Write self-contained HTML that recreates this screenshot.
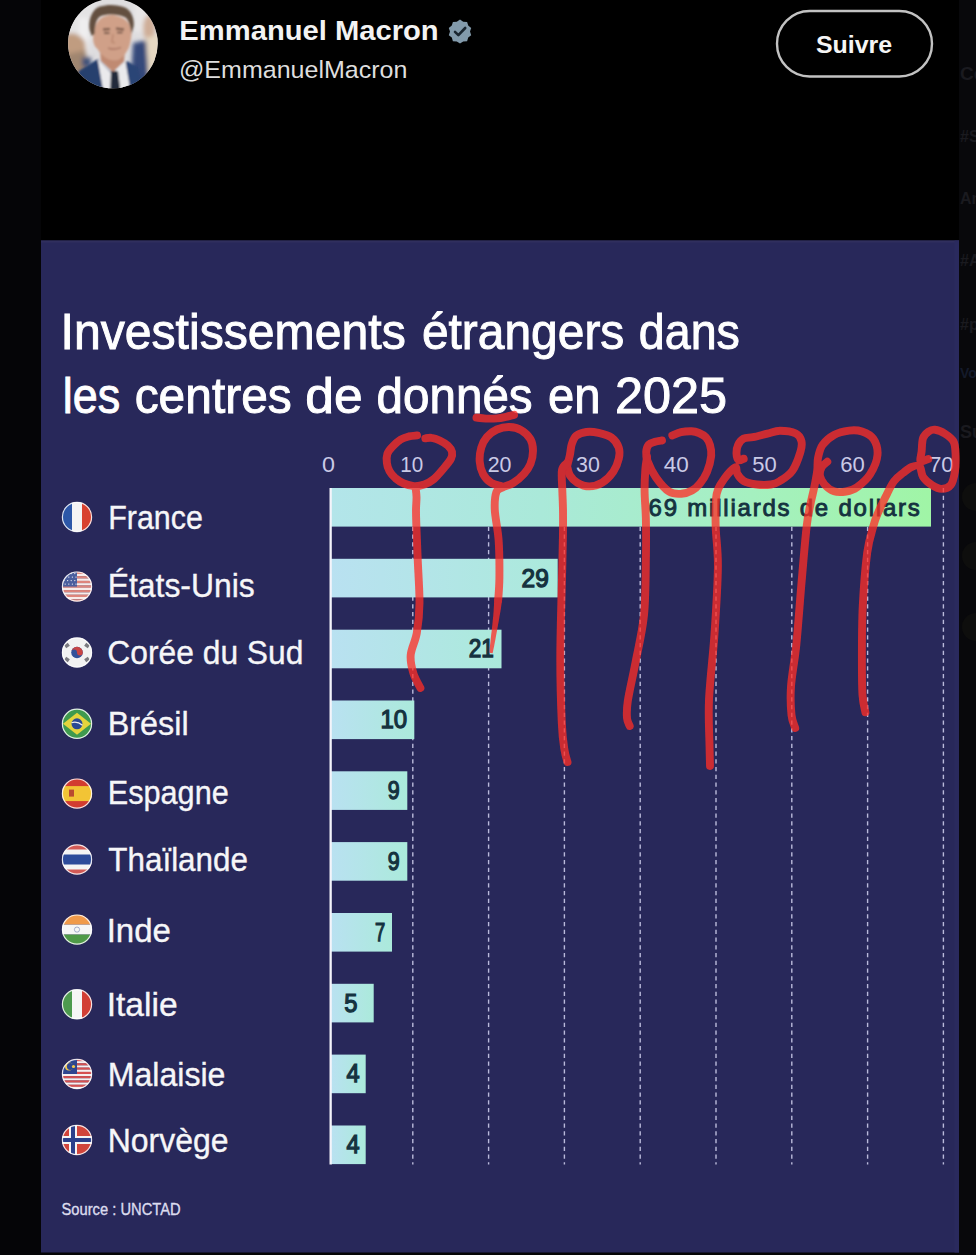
<!DOCTYPE html>
<html><head><meta charset="utf-8"><title>Emmanuel Macron</title>
<style>
html,body{margin:0;padding:0;background:#050507;}
body{width:976px;height:1255px;overflow:hidden;}
svg{display:block;}
</style></head><body>
<svg width="976" height="1255" viewBox="0 0 976 1255">
<defs><linearGradient id="gF0" gradientUnits="userSpaceOnUse" x1="331" y1="0" x2="931" y2="0"><stop offset="0" stop-color="#b3e5ea"/><stop offset="0.35" stop-color="#aae9d9"/><stop offset="0.7" stop-color="#a5f0c0"/><stop offset="1" stop-color="#a0f5a6"/></linearGradient><linearGradient id="gB1" gradientUnits="userSpaceOnUse" x1="331" y1="0" x2="557.7" y2="0"><stop offset="0" stop-color="#b9e1f1"/><stop offset="1" stop-color="#abeadb"/></linearGradient><linearGradient id="gB2" gradientUnits="userSpaceOnUse" x1="331" y1="0" x2="501.5" y2="0"><stop offset="0" stop-color="#b9e1f1"/><stop offset="1" stop-color="#abeadb"/></linearGradient><linearGradient id="gB3" gradientUnits="userSpaceOnUse" x1="331" y1="0" x2="414.3" y2="0"><stop offset="0" stop-color="#b9e1f1"/><stop offset="1" stop-color="#abeadb"/></linearGradient><linearGradient id="gB4" gradientUnits="userSpaceOnUse" x1="331" y1="0" x2="407.3" y2="0"><stop offset="0" stop-color="#b9e1f1"/><stop offset="1" stop-color="#abeadb"/></linearGradient><linearGradient id="gB5" gradientUnits="userSpaceOnUse" x1="331" y1="0" x2="407.3" y2="0"><stop offset="0" stop-color="#b9e1f1"/><stop offset="1" stop-color="#abeadb"/></linearGradient><linearGradient id="gB6" gradientUnits="userSpaceOnUse" x1="331" y1="0" x2="392" y2="0"><stop offset="0" stop-color="#b9e1f1"/><stop offset="1" stop-color="#abeadb"/></linearGradient><linearGradient id="gB7" gradientUnits="userSpaceOnUse" x1="331" y1="0" x2="373.7" y2="0"><stop offset="0" stop-color="#b9e1f1"/><stop offset="1" stop-color="#abeadb"/></linearGradient><linearGradient id="gB8" gradientUnits="userSpaceOnUse" x1="331" y1="0" x2="365.7" y2="0"><stop offset="0" stop-color="#b9e1f1"/><stop offset="1" stop-color="#abeadb"/></linearGradient><linearGradient id="gB9" gradientUnits="userSpaceOnUse" x1="331" y1="0" x2="365.7" y2="0"><stop offset="0" stop-color="#b9e1f1"/><stop offset="1" stop-color="#abeadb"/></linearGradient></defs>
<rect x="0" y="0" width="976" height="1255" fill="#050507"/>
<rect x="41" y="0" width="918" height="241" fill="#000000"/>
<rect x="959" y="0" width="17" height="1255" fill="#08080b"/>
<!-- header -->

<clipPath id="av"><circle cx="112.9" cy="43.5" r="44.8"/></clipPath>
<filter id="blur1" x="-20%" y="-20%" width="140%" height="140%"><feGaussianBlur stdDeviation="0.9"/></filter>
<filter id="blur2" x="-20%" y="-20%" width="140%" height="140%"><feGaussianBlur stdDeviation="2.2"/></filter>
<g clip-path="url(#av)">
<rect x="60" y="-5" width="110" height="100" fill="#dedddf"/>
<g filter="url(#blur2)">
<rect x="64" y="-5" width="30" height="45" fill="#e4e3e4"/>
<rect x="79" y="18" width="9" height="40" fill="#f0eff0"/>
<path d="M64,36 C70,31 80,33 85,42 L88,72 L66,75 Z" fill="#c09c80"/>
<path d="M64,55 L86,50 L90,88 L64,90 Z" fill="#a08670"/>
<path d="M82,57 L91,57 L91,67 L82,67 Z" fill="#41527a"/>
<rect x="134" y="2" width="14" height="30" fill="#e8e6e6"/>
<ellipse cx="149" cy="28" rx="6" ry="13" fill="#cfae98"/>
<path d="M133,43 L148,40 L152,95 L130,95 Z" fill="#34497a"/>
<path d="M146,38 L160,34 L162,80 L149,84 Z" fill="#e6d8c2"/>
</g>
<g filter="url(#blur1)">
<path d="M70,95 L79,71 L98,59 L113,74 L127,61 L138,67 L146,95 Z" fill="#2b4576"/>
<path d="M79,71 L98,59 L106,72 L100,95 L86,95 Z" fill="#283f6e"/>
<path d="M97.5,58.5 L112,74 L125.5,61.5 L129.5,85 L125,95 L104,95 Z" fill="#eaeaec"/>
<path d="M111,71 L118,71 L121,95 L110,95 Z" fill="#22293a"/>
<path d="M100,52 L125,50 L124,61.5 L113,72 L101,61 Z" fill="#c08a72"/>
<path d="M93.7,33.8 C92,40 94,47 97.8,49.2 C100,54 105,57.4 108,59 C111,60.5 115,60.8 118,60 C122,58 125.5,54.3 127,51 C129.5,48 130.6,43 131.6,33.8 C131,24 127,17 113,15 C100,15 95,22 93.7,33.8 Z" fill="#d0a088"/>
<path d="M89.6,30 C88,20 92,9 100,6.5 C108,4 118,4.5 125,7.5 C131,10.5 134.5,18 133.7,26 L131.6,33.8 C130.5,27 129,20 125.5,17.4 C119,14 107,13.5 100,16.4 C96,19 95,26 94.5,34 L91.7,36 Z" fill="#635040"/>
<path d="M103,29.5 L110,29 M116,28.5 L124,29.5" stroke="#6a4c3e" stroke-width="1.8"/>
<path d="M104,33 L109.5,33 M117,32.5 L122.5,32.5" stroke="#5a4035" stroke-width="1.5"/>
<path d="M113,34 L112,42 L115,43" stroke="#b58068" stroke-width="1.2" fill="none"/>
<path d="M108,48 C111,49.5 116,49.5 121,47.5" stroke="#a06a5a" stroke-width="1.3" fill="none"/>
</g>
</g>

<g font-family="'Liberation Sans', Arial, sans-serif" font-weight="700" font-size="27.5" fill="#f3f3f3"><text x="179.38" y="40.40" textLength="259.23" lengthAdjust="spacingAndGlyphs">Emmanuel Macron</text></g>
<g transform="translate(460,31)">
<path d="M0,-11.5 L3.2,-9.3 L7.1,-9.1 L8.2,-5.4 L11.2,-3 L10,0.6 L11.2,4.2 L8.2,6.5 L7.1,10.2 L3.2,10.4 L0,12.6 L-3.2,10.4 L-7.1,10.2 L-8.2,6.5 L-11.2,4.2 L-10,0.6 L-11.2,-3 L-8.2,-5.4 L-7.1,-9.1 L-3.2,-9.3 Z" fill="#829aab" transform="scale(1.0)"/>
<path d="M-5,0.8 L-1.6,4.2 L5.2,-3" fill="none" stroke="#1a2630" stroke-width="2.6" stroke-linecap="round" stroke-linejoin="round"/>
</g>
<g font-family="'Liberation Sans', Arial, sans-serif" font-size="24.8" fill="#dedede"><text x="178.98" y="77.80" textLength="228.42" lengthAdjust="spacingAndGlyphs">@EmmanuelMacron</text></g>
<rect x="777" y="11" width="155" height="65.5" rx="32.75" fill="none" stroke="#c2c2c2" stroke-width="2.4"/>
<g font-family="'Liberation Sans', Arial, sans-serif" font-weight="700" font-size="24.6" fill="#f5f5f5"><text x="815.99" y="52.50" textLength="76.20" lengthAdjust="spacingAndGlyphs">Suivre</text></g>
<!-- right sidebar faint -->
<g font-family="'Liberation Sans', Arial, sans-serif" font-weight="700" fill="#1a1a1f">
<text x="960" y="80" font-size="19">Ce</text><text x="960" y="142" font-size="16">#S</text><text x="960" y="204" font-size="16">An</text><text x="960" y="266" font-size="16">#A</text><text x="960" y="330" font-size="16">#p</text><text x="960" y="378" font-size="14" fill="#141a2a">Vo</text><text x="960" y="438" font-size="18">Su</text>
</g>
<g fill="#0e0e0d"><circle cx="976" cy="497" r="14"/><circle cx="976" cy="556" r="14"/><circle cx="976" cy="627" r="14"/></g>
<!-- panel -->
<rect x="41" y="240.5" width="918" height="1012" fill="#28285a"/>
<rect x="41" y="240.5" width="918" height="2" fill="#302f5e"/><rect x="954.5" y="240.5" width="4.5" height="1012" fill="#2a2a5e"/>
<g font-family="'Liberation Sans', Arial, sans-serif" fill="#ffffff" font-size="49.5" stroke="#ffffff" stroke-width="0.95"><text x="60.51" y="349.00" textLength="345.26" lengthAdjust="spacingAndGlyphs">Investissements</text><text x="421.93" y="349.00" textLength="202.36" lengthAdjust="spacingAndGlyphs">étrangers</text><text x="638.86" y="349.00" textLength="101.01" lengthAdjust="spacingAndGlyphs">dans</text><text x="62.78" y="413.00" textLength="57.38" lengthAdjust="spacingAndGlyphs">les</text><text x="134.63" y="413.00" textLength="157.15" lengthAdjust="spacingAndGlyphs">centres</text><text x="305.36" y="413.00" textLength="57.39" lengthAdjust="spacingAndGlyphs">de</text><text x="376.54" y="413.00" textLength="156.11" lengthAdjust="spacingAndGlyphs">donnés</text><text x="547.95" y="413.00" textLength="52.47" lengthAdjust="spacingAndGlyphs">en</text><text x="614.96" y="413.00" textLength="112.18" lengthAdjust="spacingAndGlyphs">2025</text></g>
<g font-family="'Liberation Sans', Arial, sans-serif" fill="#cacae6" font-size="21.4"><text x="322.11" y="471.80" textLength="12.98" lengthAdjust="spacingAndGlyphs">0</text><text x="400.24" y="471.80" textLength="22.93" lengthAdjust="spacingAndGlyphs">10</text><text x="487.70" y="471.80" textLength="23.80" lengthAdjust="spacingAndGlyphs">20</text><text x="576.00" y="471.80" textLength="23.80" lengthAdjust="spacingAndGlyphs">30</text><text x="663.80" y="471.80" textLength="25.04" lengthAdjust="spacingAndGlyphs">40</text><text x="752.37" y="471.80" textLength="24.45" lengthAdjust="spacingAndGlyphs">50</text><text x="840.27" y="471.80" textLength="24.55" lengthAdjust="spacingAndGlyphs">60</text><text x="928.96" y="471.80" textLength="24.77" lengthAdjust="spacingAndGlyphs">70</text></g>
<g stroke="#e4e4ff" stroke-opacity="0.78" stroke-width="1.4" stroke-dasharray="4.2 3.55"><line x1="412.8" y1="488" x2="412.8" y2="1164.5"/><line x1="488.6" y1="488" x2="488.6" y2="1164.5"/><line x1="564.4" y1="488" x2="564.4" y2="1164.5"/><line x1="640.2" y1="488" x2="640.2" y2="1164.5"/><line x1="716.0" y1="488" x2="716.0" y2="1164.5"/><line x1="791.8" y1="488" x2="791.8" y2="1164.5"/><line x1="867.6" y1="488" x2="867.6" y2="1164.5"/><line x1="943.4" y1="488" x2="943.4" y2="1164.5"/></g>
<rect x="331" y="488.0" width="600.0" height="38.6" fill="url(#gF0)"/><rect x="331" y="558.8" width="226.7" height="38.6" fill="url(#gB1)"/><rect x="331" y="629.7" width="170.5" height="38.6" fill="url(#gB2)"/><rect x="331" y="700.5" width="83.3" height="38.6" fill="url(#gB3)"/><rect x="331" y="771.3" width="76.3" height="38.6" fill="url(#gB4)"/><rect x="331" y="842.1" width="76.3" height="38.6" fill="url(#gB5)"/><rect x="331" y="913.0" width="61.0" height="38.6" fill="url(#gB6)"/><rect x="331" y="983.8" width="42.7" height="38.6" fill="url(#gB7)"/><rect x="331" y="1054.6" width="34.7" height="38.6" fill="url(#gB8)"/><rect x="331" y="1125.5" width="34.7" height="38.6" fill="url(#gB9)"/>
<rect x="329.5" y="488" width="2.3" height="676.5" fill="#f4f4fa"/>
<g font-family="'Liberation Sans', Arial, sans-serif" font-weight="400" font-size="25" fill="#15323f" stroke="#15323f" stroke-width="0.8"><text x="648.60" y="516.30" textLength="271.21" lengthAdjust="spacing" stroke-width="0.9" font-size="24">69 milliards de dollars</text><text x="521.60" y="586.63" textLength="27.22" lengthAdjust="spacingAndGlyphs" stroke-width="1.25">29</text><text x="468.70" y="657.46" textLength="25.13" lengthAdjust="spacingAndGlyphs" stroke-width="1.25">21</text><text x="380.44" y="728.29" textLength="26.68" lengthAdjust="spacingAndGlyphs" stroke-width="1.25">10</text><text x="387.70" y="799.12" textLength="11.92" lengthAdjust="spacingAndGlyphs" stroke-width="1.25">9</text><text x="387.70" y="869.95" textLength="11.92" lengthAdjust="spacingAndGlyphs" stroke-width="1.25">9</text><text x="375.00" y="940.78" textLength="10.23" lengthAdjust="spacingAndGlyphs" stroke-width="1.25">7</text><text x="344.20" y="1011.61" textLength="13.21" lengthAdjust="spacingAndGlyphs" stroke-width="1.25">5</text><text x="346.40" y="1082.44" textLength="13.11" lengthAdjust="spacingAndGlyphs" stroke-width="1.25">4</text><text x="346.40" y="1153.27" textLength="13.11" lengthAdjust="spacingAndGlyphs" stroke-width="1.25">4</text></g>
<clipPath id="fc0"><circle cx="77" cy="517" r="15"/></clipPath><g clip-path="url(#fc0)"><rect x="62" y="502" width="10" height="30" fill="#2c57a8"/><rect x="72" y="502" width="10" height="30" fill="#f4f4f4"/><rect x="82" y="502" width="10" height="30" fill="#d8412f"/></g><circle cx="77" cy="517" r="14.6" fill="none" stroke="#ffffff" stroke-opacity="0.85" stroke-width="1.2"/><clipPath id="fc1"><circle cx="77" cy="586.6" r="15"/></clipPath><g clip-path="url(#fc1)"><rect x="62" y="571.60" width="30" height="2.41" fill="#de857c"/><rect x="62" y="573.91" width="30" height="2.41" fill="#f8ecea"/><rect x="62" y="576.22" width="30" height="2.41" fill="#de857c"/><rect x="62" y="578.52" width="30" height="2.41" fill="#f8ecea"/><rect x="62" y="580.83" width="30" height="2.41" fill="#de857c"/><rect x="62" y="583.14" width="30" height="2.41" fill="#f8ecea"/><rect x="62" y="585.45" width="30" height="2.41" fill="#de857c"/><rect x="62" y="587.75" width="30" height="2.41" fill="#f8ecea"/><rect x="62" y="590.06" width="30" height="2.41" fill="#de857c"/><rect x="62" y="592.37" width="30" height="2.41" fill="#f8ecea"/><rect x="62" y="594.68" width="30" height="2.41" fill="#de857c"/><rect x="62" y="596.98" width="30" height="2.41" fill="#f8ecea"/><rect x="62" y="599.29" width="30" height="2.41" fill="#de857c"/><rect x="62" y="571.6" width="15" height="15" fill="#4a5e9e"/><circle cx="64.0" cy="573.6" r="0.7" fill="#e8e8f0"/><circle cx="65.2" cy="577.1" r="0.7" fill="#e8e8f0"/><circle cx="64.0" cy="580.6" r="0.7" fill="#e8e8f0"/><circle cx="65.2" cy="584.1" r="0.7" fill="#e8e8f0"/><circle cx="67.6" cy="573.6" r="0.7" fill="#e8e8f0"/><circle cx="68.8" cy="577.1" r="0.7" fill="#e8e8f0"/><circle cx="67.6" cy="580.6" r="0.7" fill="#e8e8f0"/><circle cx="68.8" cy="584.1" r="0.7" fill="#e8e8f0"/><circle cx="71.2" cy="573.6" r="0.7" fill="#e8e8f0"/><circle cx="72.4" cy="577.1" r="0.7" fill="#e8e8f0"/><circle cx="71.2" cy="580.6" r="0.7" fill="#e8e8f0"/><circle cx="72.4" cy="584.1" r="0.7" fill="#e8e8f0"/><circle cx="74.8" cy="573.6" r="0.7" fill="#e8e8f0"/><circle cx="76.0" cy="577.1" r="0.7" fill="#e8e8f0"/><circle cx="74.8" cy="580.6" r="0.7" fill="#e8e8f0"/><circle cx="76.0" cy="584.1" r="0.7" fill="#e8e8f0"/></g><circle cx="77" cy="586.6" r="14.6" fill="none" stroke="#ffffff" stroke-opacity="0.85" stroke-width="1.2"/><clipPath id="fc2"><circle cx="77" cy="652.5" r="15"/></clipPath><g clip-path="url(#fc2)"><rect x="62" y="637.5" width="30" height="30" fill="#f2f2f2"/><circle cx="77" cy="652.5" r="5.8" fill="#33519a"/><path d="M71.2,652.5 A5.8,5.8 0 0 1 82.8,652.5 A2.9,2.9 0 0 1 77,652.5 A2.9,2.9 0 0 0 71.2,652.5 Z" fill="#c84444"/><rect x="64.8" y="643.7" width="4.4" height="3.6" fill="#7a7a80" transform="rotate(-35 67 645.5)"/><rect x="84.8" y="643.7" width="4.4" height="3.6" fill="#7a7a80" transform="rotate(35 87 645.5)"/><rect x="64.8" y="657.7" width="4.4" height="3.6" fill="#7a7a80" transform="rotate(35 67 659.5)"/><rect x="84.8" y="657.7" width="4.4" height="3.6" fill="#7a7a80" transform="rotate(-35 87 659.5)"/></g><circle cx="77" cy="652.5" r="14.6" fill="none" stroke="#ffffff" stroke-opacity="0.85" stroke-width="1.2"/><clipPath id="fc3"><circle cx="77" cy="723.8" r="15"/></clipPath><g clip-path="url(#fc3)"><rect x="62" y="708.8" width="30" height="30" fill="#3f9a4e"/><path d="M63,723.8 L77,712.8 L91,723.8 L77,734.8 Z" fill="#e4d43c"/><circle cx="77" cy="723.8" r="5.5" fill="#2b4a94"/><path d="M71.5,722.8 Q77,720.8 82.5,725.3" stroke="#eee" stroke-width="1.2" fill="none"/></g><circle cx="77" cy="723.8" r="14.6" fill="none" stroke="#ffffff" stroke-opacity="0.85" stroke-width="1.2"/><clipPath id="fc4"><circle cx="77" cy="793.6" r="15"/></clipPath><g clip-path="url(#fc4)"><rect x="62" y="778.6" width="30" height="30" fill="#d23c30"/><rect x="62" y="786.1" width="30" height="15" fill="#f2c435"/><rect x="69" y="789.6" width="5" height="7" fill="#b94a30"/></g><circle cx="77" cy="793.6" r="14.6" fill="none" stroke="#ffffff" stroke-opacity="0.85" stroke-width="1.2"/><clipPath id="fc5"><circle cx="77" cy="859.5" r="15"/></clipPath><g clip-path="url(#fc5)"><rect x="62" y="844.5" width="30" height="30" fill="#d25a56"/><rect x="62" y="849.5" width="30" height="20" fill="#f4f4f4"/><rect x="62" y="854.5" width="30" height="10" fill="#2d4b9a"/></g><circle cx="77" cy="859.5" r="14.6" fill="none" stroke="#ffffff" stroke-opacity="0.85" stroke-width="1.2"/><clipPath id="fc6"><circle cx="77" cy="929.6" r="15"/></clipPath><g clip-path="url(#fc6)"><rect x="62" y="914.6" width="30" height="10" fill="#f09a4a"/><rect x="62" y="924.6" width="30" height="10" fill="#f6f6f6"/><rect x="62" y="934.6" width="30" height="10" fill="#4f9a48"/><circle cx="77" cy="929.6" r="2.6" fill="none" stroke="#7080b0" stroke-width="0.6"/></g><circle cx="77" cy="929.6" r="14.6" fill="none" stroke="#ffffff" stroke-opacity="0.85" stroke-width="1.2"/><clipPath id="fc7"><circle cx="77" cy="1004.3" r="15"/></clipPath><g clip-path="url(#fc7)"><rect x="62" y="989.3" width="10" height="30" fill="#4d9a4e"/><rect x="72" y="989.3" width="10" height="30" fill="#f6f6f6"/><rect x="82" y="989.3" width="10" height="30" fill="#d23f35"/></g><circle cx="77" cy="1004.3" r="14.6" fill="none" stroke="#ffffff" stroke-opacity="0.85" stroke-width="1.2"/><clipPath id="fc8"><circle cx="77" cy="1074" r="15"/></clipPath><g clip-path="url(#fc8)"><rect x="62" y="1059.00" width="30" height="2.24" fill="#d65050"/><rect x="62" y="1061.14" width="30" height="2.24" fill="#f6f0f0"/><rect x="62" y="1063.29" width="30" height="2.24" fill="#d65050"/><rect x="62" y="1065.43" width="30" height="2.24" fill="#f6f0f0"/><rect x="62" y="1067.57" width="30" height="2.24" fill="#d65050"/><rect x="62" y="1069.71" width="30" height="2.24" fill="#f6f0f0"/><rect x="62" y="1071.86" width="30" height="2.24" fill="#d65050"/><rect x="62" y="1074.00" width="30" height="2.24" fill="#f6f0f0"/><rect x="62" y="1076.14" width="30" height="2.24" fill="#d65050"/><rect x="62" y="1078.29" width="30" height="2.24" fill="#f6f0f0"/><rect x="62" y="1080.43" width="30" height="2.24" fill="#d65050"/><rect x="62" y="1082.57" width="30" height="2.24" fill="#f6f0f0"/><rect x="62" y="1084.71" width="30" height="2.24" fill="#d65050"/><rect x="62" y="1086.86" width="30" height="2.24" fill="#f6f0f0"/><rect x="62" y="1059" width="15" height="15" fill="#2e4690"/><circle cx="69" cy="1066.5" r="4" fill="#f2c94a"/><circle cx="70.3" cy="1066.5" r="3.4" fill="#2e4690"/><circle cx="73.5" cy="1066.5" r="1.6" fill="#f2c94a"/></g><circle cx="77" cy="1074" r="14.6" fill="none" stroke="#ffffff" stroke-opacity="0.85" stroke-width="1.2"/><clipPath id="fc9"><circle cx="77" cy="1140" r="15"/></clipPath><g clip-path="url(#fc9)"><rect x="62" y="1125" width="30" height="30" fill="#d1453b"/><rect x="69" y="1125" width="8" height="30" fill="#f4f4f4"/><rect x="62" y="1136" width="30" height="8" fill="#f4f4f4"/><rect x="71" y="1125" width="4" height="30" fill="#2b3f8a"/><rect x="62" y="1138" width="30" height="4" fill="#2b3f8a"/></g><circle cx="77" cy="1140" r="14.6" fill="none" stroke="#ffffff" stroke-opacity="0.85" stroke-width="1.2"/>
<g font-family="'Liberation Sans', Arial, sans-serif" font-size="33.9" fill="#f6f6f8" stroke="#f6f6f8" stroke-width="0.35"><text x="108.20" y="528.60" textLength="94.73" lengthAdjust="spacingAndGlyphs">France</text><text x="107.72" y="597.30" textLength="147.03" lengthAdjust="spacingAndGlyphs">États-Unis</text><text x="107.36" y="663.90" textLength="196.04" lengthAdjust="spacingAndGlyphs">Corée du Sud</text><text x="107.69" y="735.00" textLength="80.88" lengthAdjust="spacingAndGlyphs">Brésil</text><text x="107.79" y="804.20" textLength="120.93" lengthAdjust="spacingAndGlyphs">Espagne</text><text x="108.30" y="871.00" textLength="139.69" lengthAdjust="spacingAndGlyphs">Thaïlande</text><text x="106.68" y="941.60" textLength="64.27" lengthAdjust="spacingAndGlyphs">Inde</text><text x="106.63" y="1016.30" textLength="70.96" lengthAdjust="spacingAndGlyphs">Italie</text><text x="107.71" y="1085.50" textLength="117.74" lengthAdjust="spacingAndGlyphs">Malaisie</text><text x="107.71" y="1152.00" textLength="120.94" lengthAdjust="spacingAndGlyphs">Norvège</text></g>
<g font-family="'Liberation Sans', Arial, sans-serif" font-size="15.8" fill="#dcdcee" stroke="#dcdcee" stroke-width="0.35"><text x="61.57" y="1214.70" textLength="119.01" lengthAdjust="spacingAndGlyphs">Source : UNCTAD</text></g>
<!-- red annotations -->
<filter id="rb" x="-5%" y="-5%" width="110%" height="110%"><feGaussianBlur stdDeviation="0.7"/></filter>
<g opacity="0.76" filter="url(#rb)"><g fill="none" stroke="#ff2d28" stroke-width="7.9" stroke-linecap="round" stroke-linejoin="round"><path d="M476.5,417.6 C478.1,417.8 482.6,418.5 486.0,418.6 C489.4,418.7 493.7,418.7 497.0,418.4 C500.3,418.1 503.2,417.4 506.0,416.8 C508.8,416.2 512.7,415.1 514.0,414.8"/><path d="M417.1,435.4 C415.7,435.6 411.6,435.7 408.9,436.4 C406.2,437.1 403.4,437.8 400.7,439.5 C398.0,441.2 394.7,444.2 392.5,446.6 C390.3,449.0 388.3,451.1 387.4,453.8 C386.5,456.5 386.5,460.1 386.9,463.0 C387.2,465.9 388.1,468.6 389.5,471.2 C390.9,473.8 393.2,476.3 395.6,478.4 C398.0,480.4 400.7,482.2 403.8,483.5 C406.9,484.8 410.7,485.9 414.1,486.1 C417.5,486.3 421.1,485.6 424.3,484.5 C427.5,483.4 430.2,482.1 433.5,479.4 C436.8,476.7 440.9,471.6 443.8,468.2 C446.7,464.8 449.5,461.6 450.9,458.9 C452.3,456.2 452.5,454.0 452.0,451.8 C451.5,449.6 449.9,447.5 447.9,445.6 C445.8,443.7 442.4,441.8 439.7,440.5 C437.0,439.2 433.9,438.2 431.5,437.9 C429.1,437.5 426.3,438.3 425.3,438.4"/><path d="M415.5,487.0 C415.7,488.7 416.4,493.2 416.5,497.0 C416.6,500.8 416.0,505.5 416.0,510.0 C416.0,514.5 416.0,515.8 416.3,524.0 C416.6,532.2 417.2,545.8 417.7,559.0 C418.2,572.2 419.6,590.7 419.5,603.0 C419.4,615.3 418.3,624.3 416.8,633.0 C415.3,641.7 411.3,648.3 410.7,655.0 C410.1,661.7 411.7,667.5 413.3,673.0 C414.9,678.5 419.2,685.5 420.4,688.0"/><path d="M501.0,486.0 C499.4,485.5 494.1,484.8 491.1,482.8 C488.1,480.8 484.9,477.4 483.0,473.8 C481.1,470.2 480.0,465.9 479.7,461.5 C479.4,457.1 480.1,451.6 481.3,447.5 C482.5,443.4 484.4,439.9 487.0,436.9 C489.6,433.9 493.2,431.1 496.9,429.5 C500.6,427.9 505.1,426.9 509.2,427.0 C513.3,427.1 518.0,428.2 521.5,430.3 C525.0,432.4 528.6,435.9 530.5,439.3 C532.4,442.7 533.0,446.7 533.0,450.8 C533.0,454.9 532.0,460.1 530.5,463.9 C529.0,467.7 526.9,470.6 524.0,473.8 C521.1,477.0 516.9,480.5 513.3,482.8 C509.7,485.1 505.4,486.0 502.6,487.5 C499.8,489.0 497.7,488.2 496.4,492.0 C495.1,495.8 494.4,502.0 494.8,510.0 C495.2,518.0 497.8,528.7 498.6,540.0 C499.4,551.3 499.5,568.0 499.4,578.0 C499.3,588.0 498.4,596.3 498.2,600.0"/><path d="M567.1,466.1 C567.6,464.2 569.1,458.7 569.9,455.0 C570.7,451.3 570.7,447.2 571.8,444.0 C572.9,440.8 573.9,437.7 576.4,435.7 C578.9,433.7 582.8,432.5 586.5,432.0 C590.2,431.5 594.4,432.0 598.5,432.9 C602.6,433.8 608.0,435.0 611.4,437.5 C614.8,440.0 617.6,444.2 618.8,447.7 C620.0,451.2 619.7,454.7 618.8,458.7 C617.9,462.7 616.1,467.7 613.3,471.7 C610.5,475.7 606.2,480.2 602.2,482.7 C598.2,485.1 593.4,486.4 589.3,486.4 C585.1,486.4 580.5,484.5 577.3,482.7 C574.1,480.9 571.6,478.2 569.9,475.4 C568.2,472.6 567.6,467.7 567.1,466.1"/><path d="M567.0,463.0 C566.2,464.2 562.8,465.5 562.0,470.0 C561.2,474.5 562.1,483.3 562.3,490.0 C562.5,496.7 562.9,503.3 563.0,510.0 C563.1,516.7 563.1,520.5 563.0,530.0 C562.9,539.5 562.8,546.0 562.3,567.0 C561.8,588.0 560.4,630.0 560.3,656.0 C560.2,682.0 561.1,707.3 561.8,723.0 C562.5,738.7 563.5,743.5 564.5,750.0 C565.5,756.5 567.0,760.0 567.5,762.0"/><path d="M662.0,440.5 C660.8,440.7 657.2,441.1 655.0,441.8 C652.8,442.5 650.2,442.9 648.7,444.6 C647.2,446.3 646.4,449.3 646.2,452.0 C646.0,454.7 645.9,456.8 647.5,461.0 C649.1,465.2 652.3,472.3 655.9,477.4 C659.5,482.5 664.9,489.0 669.2,491.7 C673.5,494.4 677.7,494.0 681.5,493.8 C685.3,493.6 688.9,492.2 692.0,490.5 C695.1,488.8 697.5,486.6 700.0,483.5 C702.5,480.4 705.1,476.6 707.0,472.0 C708.9,467.4 710.7,460.4 711.2,455.9 C711.7,451.4 710.9,448.1 710.0,445.0 C709.1,441.9 707.8,439.4 706.0,437.4 C704.2,435.4 701.4,434.0 699.0,433.0 C696.6,432.0 694.7,431.4 691.7,431.3 C688.7,431.2 684.2,431.5 681.0,432.2 C677.8,432.9 673.8,434.9 672.3,435.4"/><path d="M647.0,457.0 C646.7,459.2 645.7,464.2 645.3,470.0 C644.9,475.8 644.5,483.4 644.6,491.7 C644.7,500.0 645.7,509.1 645.9,520.0 C646.1,530.9 646.2,541.2 645.9,557.0 C645.6,572.8 645.8,597.3 644.0,615.0 C642.2,632.7 638.1,648.7 635.4,663.0 C632.7,677.3 629.2,691.8 627.8,701.0 C626.4,710.2 626.7,713.8 627.0,718.0 C627.3,722.2 629.2,724.7 629.7,726.0"/><path d="M743.7,458.7 C742.9,458.9 739.9,461.0 738.7,460.2 C737.5,459.4 736.6,456.2 736.5,453.7 C736.4,451.2 736.8,447.6 738.0,445.1 C739.2,442.6 741.2,439.9 743.7,438.6 C746.2,437.3 749.0,438.0 753.0,437.2 C757.0,436.4 762.9,434.7 767.4,433.6 C771.9,432.5 775.3,430.7 780.0,430.7 C784.7,430.7 792.2,431.8 795.8,433.5 C799.4,435.2 800.6,437.9 801.4,441.0 C802.2,444.1 801.9,447.1 800.4,452.0 C798.9,456.9 795.8,465.9 792.4,470.7 C789.0,475.5 783.6,478.7 780.0,481.0 C776.4,483.3 774.9,483.9 771.0,484.5 C767.1,485.1 761.1,485.1 756.6,484.5 C752.1,483.9 746.9,482.8 743.7,481.0 C740.5,479.2 738.6,476.1 737.3,473.8 C736.0,471.5 737.0,467.7 735.8,467.3 C734.6,466.9 732.0,469.7 730.1,471.6 C728.2,473.5 726.2,476.1 724.3,478.8 C722.4,481.6 720.0,484.8 718.6,488.1 C717.2,491.5 716.5,492.4 716.0,498.9 C715.5,505.4 715.4,515.6 715.7,527.0 C716.0,538.4 718.1,549.2 717.9,567.0 C717.7,584.8 716.0,611.8 714.5,634.0 C713.0,656.2 709.8,681.5 709.0,700.0 C708.2,718.5 709.3,734.0 709.5,745.0 C709.7,756.0 709.9,762.5 710.0,766.0"/><path d="M827.3,461.7 C826.3,462.7 822.7,465.1 821.5,467.5 C820.3,469.9 819.5,473.2 820.0,476.0 C820.5,478.8 822.2,481.9 824.5,484.5 C826.8,487.1 830.4,490.1 834.0,491.3 C837.6,492.5 842.2,492.2 846.0,491.5 C849.8,490.8 853.0,490.1 857.0,487.2 C861.0,484.3 866.8,479.5 870.2,474.1 C873.6,468.7 877.0,460.9 877.5,455.0 C878.0,449.1 876.1,442.9 873.5,439.0 C870.9,435.1 866.1,432.9 862.0,431.5 C857.9,430.1 853.7,430.0 849.0,430.6 C844.3,431.2 838.4,432.6 834.0,435.0 C829.6,437.4 825.2,441.2 822.5,445.0 C819.8,448.8 818.9,453.7 818.0,458.0 C817.1,462.3 817.9,465.7 817.2,470.7 C816.6,475.7 815.2,482.4 814.1,488.0 C813.0,493.6 811.6,498.0 810.4,504.5 C809.1,511.0 808.1,513.9 806.6,527.0 C805.1,540.1 803.2,563.3 801.5,583.0 C799.8,602.7 798.0,627.8 796.3,645.0 C794.5,662.2 791.8,674.8 791.0,686.5 C790.2,698.2 790.8,708.1 791.5,715.0 C792.2,721.9 794.6,725.8 795.2,728.0"/><path d="M928.3,459.0 C927.0,459.4 921.6,462.7 920.5,461.5 C919.4,460.3 921.2,455.5 921.6,451.6 C922.0,447.7 921.9,441.6 923.0,438.3 C924.1,435.0 926.3,433.1 928.3,431.7 C930.3,430.3 932.2,429.4 935.0,429.7 C937.8,430.0 941.9,431.7 945.0,433.7 C948.1,435.7 951.8,438.1 953.6,441.6 C955.4,445.2 955.4,450.0 955.6,455.0 C955.8,460.0 955.7,466.6 954.9,471.6 C954.1,476.6 953.1,482.0 950.9,484.9 C948.7,487.8 944.8,488.9 941.6,488.9 C938.4,488.9 934.7,486.9 931.6,484.9 C928.5,482.9 925.0,480.0 923.0,476.9 C921.0,473.8 921.5,467.9 919.6,466.3 C917.7,464.7 914.4,465.9 911.6,467.0 C908.8,468.1 906.0,470.6 903.0,473.0 C900.0,475.4 896.7,477.5 893.8,481.5 C890.9,485.5 888.3,491.3 885.6,496.8 C882.9,502.3 879.5,509.4 877.4,514.3 C875.3,519.2 875.0,519.9 873.3,526.3 C871.6,532.7 869.0,539.4 867.2,552.6 C865.5,565.8 863.7,587.8 862.8,605.3 C861.9,622.8 861.9,642.9 861.9,657.9 C861.9,672.9 861.9,685.9 862.5,695.0 C863.1,704.1 864.9,709.4 865.4,712.3"/></g><g fill="#ff2d28"><path d="M494.3,598.6 L494.2,599.4 L494.2,600.3 L494.1,601.2 L494.1,602.3 L494.0,603.5 L494.0,604.8 L493.9,606.3 L493.8,607.8 L493.7,609.6 L493.6,611.4 L493.4,613.4 L493.3,615.6 L493.0,618.1 L492.7,621.0 L492.4,624.3 L492.0,627.8 L491.6,631.5 L491.1,635.2 L490.7,638.9 L490.4,642.3 L490.0,645.6 L489.7,648.5 L489.5,650.9 L489.4,652.8 L492.6,653.2 L493.0,651.4 L493.5,649.0 L494.1,646.2 L494.7,643.0 L495.4,639.5 L496.0,635.9 L496.7,632.3 L497.4,628.6 L498.0,625.1 L498.6,621.9 L499.1,618.9 L499.5,616.4 L499.9,614.2 L500.3,612.2 L500.6,610.3 L500.9,608.6 L501.1,607.0 L501.3,605.5 L501.5,604.2 L501.7,603.0 L501.8,601.9 L501.9,601.0 L502.0,600.1 L502.1,599.4 Z"/></g></g>
</svg>
</body></html>
